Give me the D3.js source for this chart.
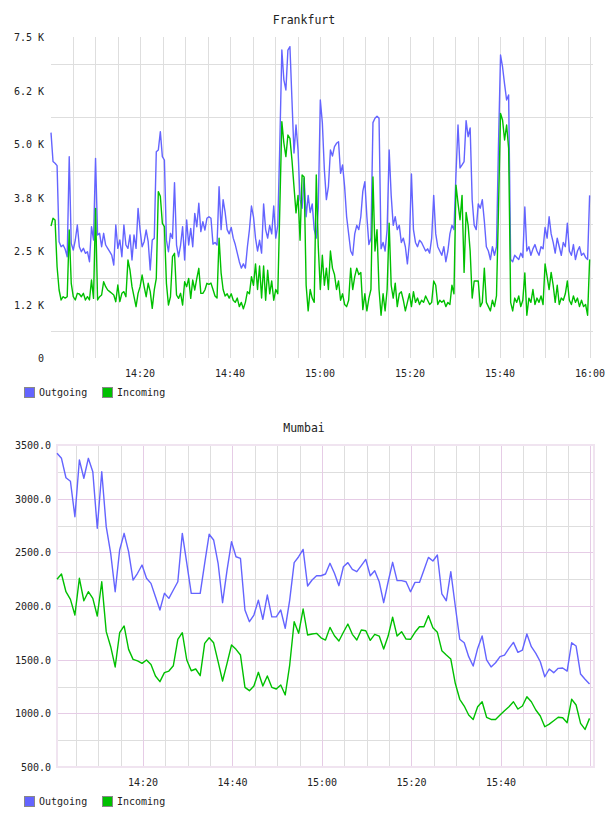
<!DOCTYPE html>
<html>
<head>
<meta charset="utf-8">
<script src="https://cdn.jsdelivr.net/npm/d3@7"></script>
<style>
  html, body { margin: 0; padding: 0; background: #fff; }
  svg text { font-family: "DejaVu Sans Mono", monospace; fill: #222; }
</style>
</head>
<body>
<div id="chart"></div>
<script>
const seriesNames = ['Outgoing', 'Incoming'];
const seriesColors = ['#6464ff', '#00c000'];

// Frankfurt, one sample every 27 s from 14:00:13
const frankfurtOutgoing = [
  5265, 4590, 4550, 4494, 2717, 2600, 2640, 2540, 2367, 4704,
  2679, 2523, 2757, 3107, 2600, 2483, 2562, 2445, 2483, 2250,
  3068, 2757, 4665, 2874, 2913, 2600, 2913, 2640, 2562, 2483,
  2406, 2173, 3107, 2562, 2757, 2367, 3107, 2640, 2562, 2874,
  2290, 2874, 2562, 3497, 2990, 2600, 2717, 2990, 2717, 2056,
  2757, 2795, 4820, 4860, 5288, 4704, 4626, 2757, 2483, 2913,
  2795, 4097, 2640, 2367, 2640, 3068, 2290, 3224, 2640, 3029,
  2600, 3380, 3068, 3614, 2952, 3185, 2990, 3264, 3302, 3264,
  2660, 2700, 2640, 4000, 3000, 3700, 3400, 3000, 2900, 3050,
  2800, 2650, 2450, 2250, 2100, 2200, 2100, 2600, 3000, 3550,
  3300, 2800, 2500, 2750, 2450, 3600, 3000, 2800, 3100, 2900,
  3550, 2800, 3100, 5000, 7196, 6500, 6262, 7196, 7273, 6028,
  4790, 5444, 4860, 3700, 3500, 4200, 3300, 3800, 3400, 3600,
  3000, 2800, 3500, 6028, 5500, 4400, 3700, 4003, 4860, 4720,
  4937, 5016, 5054, 4315, 4509, 4003, 3300, 2900, 2500, 2400,
  2900, 3100, 3000, 3300, 3900, 4120, 3300, 2650, 2800, 5500,
  5600, 5650, 5600, 2550, 2700, 2500, 3000, 4860, 3800, 3100,
  3300, 3000, 3100, 2700, 2800, 2600, 2200, 2700, 4300, 3000,
  2700, 2600, 2750, 2700, 2600, 2500, 2550, 2450, 2800, 3800,
  2900, 2600, 2500, 2400, 2600, 2250, 2500, 2900, 3100, 3000,
  4300, 5444, 4440, 4510, 4590, 5546, 5171, 5374, 3690, 3100,
  3000, 3600, 3500, 3700, 3200, 2600, 2500, 2300, 2600, 2400,
  2600, 5000, 7079, 6800, 6400, 6028, 6145, 2300, 2250, 2400,
  2350, 2300, 2450, 2350, 3530, 2500, 2600, 2400, 2550, 2650,
  2500, 2400, 2600, 2550, 3050, 2800, 3300, 2900, 2700, 2450,
  2800, 2600, 2400, 2700, 2600, 3150, 2500, 2400, 2650, 2300,
  2500, 2600, 2400, 2450, 2350, 2300, 3800
];
const frankfurtIncoming = [
  3084, 3264, 3224, 2133, 1589, 1355, 1432, 1400, 1432, 2990,
  1745, 1432, 1355, 1511, 1495, 1432, 1511, 1355, 1432, 1355,
  1822, 1393, 3497, 1355, 1432, 1472, 1783, 1667, 1589, 1550,
  1511, 1472, 1316, 1706, 1316, 1511, 1550, 1432, 2290, 2056,
  1667, 1432, 1199, 1511, 1667, 1939, 1667, 1432, 1745, 1550,
  1160, 1589, 1861, 3887, 3780, 3146, 3068, 1745, 1238, 1432,
  2367, 2445, 1472, 1393, 1511, 1238, 1783, 1667, 1861, 1393,
  1822, 1589, 1861, 2095, 1511, 1511, 1589, 1745, 1722, 1750,
  1600, 1450, 1400, 2800, 1990, 1600, 1450, 1500, 1400, 1500,
  1350, 1300, 1400, 1200, 1300, 1150, 1300, 1550, 1500, 1900,
  1700, 2200, 1600, 2150, 1400, 2150, 1350, 2050, 1500, 1800,
  1350, 1600, 1500, 3500, 5522, 5023, 4704, 5210, 5132, 4626,
  4003, 3390, 3800, 2750, 4275, 4230, 1700, 1100, 1600, 1400,
  1300, 4275, 2600, 1600, 2400, 1700, 2100, 1600, 2500, 2100,
  1950, 1600, 1800, 1350, 1500, 1250, 1200, 1350, 2100, 1600,
  1900, 2100, 1950, 2000, 1130, 1500, 1100, 1400, 1600, 4230,
  2500, 3000, 1600, 1000, 1500, 1100, 1600, 3150, 1700, 1400,
  1750, 1200, 1500, 1550, 1350, 1100, 1300, 1500, 1200, 1550,
  1300, 1400, 1250, 1350, 1300, 1450, 1350, 1250, 1300, 1800,
  1700, 1250, 1350, 1300, 1350, 1200, 1300, 1250, 1700, 1500,
  4040, 3620, 3230, 3800, 2000, 3400, 3100, 2500, 1400, 1800,
  1800, 1800, 1200, 1300, 2100, 1300, 1200, 1100, 1350, 1200,
  1450, 3500, 5716, 5560, 5093, 5444, 4900, 1300, 1100, 1400,
  1300, 1450, 1200, 1350, 1990, 1000, 1400, 1300, 1600, 1250,
  1400, 1300, 1450, 1250, 2200, 1900, 1600, 2000, 1700, 1300,
  1700, 1250, 1400, 1350, 1500, 1800, 1350, 1250, 1450, 1300,
  1400, 1200, 1350, 1200, 1250, 1000, 2300
];
const frankfurtTicks = [0, 1250, 2500, 3750, 5000, 6250, 7500];
const frankfurtTickLabels = ['0', '1.2 K', '2.5 K', '3.8 K', '5.0 K', '6.2 K', '7.5 K'];
const frankfurtTimeLabels = ['14:20', '14:40', '15:00', '15:20', '15:40', '16:00'];

// Mumbai, one sample per minute from 14:00:47
const mumbaiOutgoing = [
  3423, 3376, 3195, 3162, 2832, 3360, 3190, 3376, 3251, 2724,
  3251, 2739, 2491, 2133, 2522, 2677, 2506, 2242, 2305, 2382,
  2258, 2211, 2087, 1963, 2118, 2071, 2149, 2226, 2677, 2400,
  2118, 2118, 2118, 2398, 2668, 2615, 2398, 2031, 2335, 2599,
  2459, 2443, 1963, 1854, 1916, 2055, 1876, 2102, 1899, 1899,
  1963, 1792, 2055, 2404, 2459, 2527, 2186, 2242, 2282, 2282,
  2298, 2398, 2305, 2189, 2366, 2404, 2342, 2320, 2376, 2434,
  2282, 2329, 2226, 2031, 2226, 2407, 2236, 2236, 2226, 2133,
  2220, 2220, 2335, 2453, 2419, 2475, 2112, 2049, 2320, 2000,
  1690, 1657, 1528, 1441, 1605, 1721, 1497, 1432, 1471, 1528,
  1543, 1605, 1661, 1568, 1590, 1739, 1621, 1559, 1481, 1341,
  1413, 1379, 1419, 1422, 1394, 1657, 1627, 1366, 1317, 1273
];
const mumbaiIncoming = [
  2249, 2298, 2133, 2062, 1916, 2258, 2049, 2133, 2071, 1907,
  2226, 1761, 1621, 1432, 1751, 1814, 1596, 1503, 1488, 1466,
  1497, 1456, 1348, 1295, 1379, 1394, 1444, 1690, 1751, 1497,
  1397, 1413, 1351, 1652, 1704, 1657, 1481, 1301, 1466, 1637,
  1596, 1543, 1242, 1211, 1255, 1382, 1255, 1348, 1242, 1227,
  1264, 1171, 1450, 1854, 1745, 1972, 1730, 1739, 1745, 1704,
  1683, 1801, 1723, 1674, 1755, 1832, 1736, 1683, 1776, 1770,
  1680, 1736, 1720, 1599, 1720, 1895, 1720, 1761, 1692, 1690,
  1755, 1807, 1807, 1910, 1798, 1755, 1584, 1543, 1506, 1280,
  1131, 1068, 984, 943, 1062, 1108, 963, 943, 943, 984,
  1025, 1062, 1108, 1040, 1068, 1155, 1108, 1031, 975, 875,
  900, 931, 963, 959, 913, 1131, 1078, 907, 850, 953
];
const mumbaiTicks = [500, 1000, 1500, 2000, 2500, 3000, 3500];
const mumbaiTickLabels = ['500.0', '1000.0', '1500.0', '2000.0', '2500.0', '3000.0', '3500.0'];
const mumbaiTimeLabels = ['14:20', '14:40', '15:00', '15:20', '15:40'];

const at = (h, m, s) => new Date(2000, 0, 1, h, m, s);
const parseHM = d3.timeParse('%H:%M');
const toDay = (t) => at(t.getHours(), t.getMinutes(), 0);

const svg = d3.select('#chart').append('svg')
  .attr('width', 608)
  .attr('height', 816);

function drawChart(cfg) {
  const x = d3.scaleTime().domain(cfg.domainX).range([cfg.left, cfg.right]);
  const y = d3.scaleLinear().domain(cfg.domainY).range([cfg.bottom, cfg.top]);
  const g = svg.append('g');

  // 5 minute grid
  const minorTimes = d3.timeMinute.every(5).range(cfg.domainX[0], cfg.domainX[1]);
  g.append('g').selectAll('line')
    .data(minorTimes.filter((t) => !cfg.majorColor || t.getMinutes() % 20 !== 0))
    .join('line')
    .attr('x1', (d) => Math.round(x(d)) + 0.5)
    .attr('x2', (d) => Math.round(x(d)) + 0.5)
    .attr('y1', cfg.top)
    .attr('y2', cfg.bottom)
    .attr('stroke', cfg.gridColor);

  g.append('g').selectAll('line')
    .data(cfg.hGrid)
    .join('line')
    .attr('x1', cfg.left)
    .attr('x2', cfg.right)
    .attr('y1', (d) => Math.round(y(d)) + 0.5)
    .attr('y2', (d) => Math.round(y(d)) + 0.5)
    .attr('stroke', cfg.gridColor);

  if (cfg.majorColor) {
    g.append('g').selectAll('line')
      .data(minorTimes.filter((t) => t.getMinutes() % 20 === 0))
      .join('line')
      .attr('x1', (d) => Math.round(x(d)) + 0.5)
      .attr('x2', (d) => Math.round(x(d)) + 0.5)
      .attr('y1', cfg.top)
      .attr('y2', cfg.bottom)
      .attr('stroke', cfg.majorColor);
    g.append('g').selectAll('line')
      .data(cfg.ticks)
      .join('line')
      .attr('x1', cfg.left)
      .attr('x2', cfg.right)
      .attr('y1', (d) => Math.round(y(d)) + 0.5)
      .attr('y2', (d) => Math.round(y(d)) + 0.5)
      .attr('stroke', cfg.majorColor);
    g.append('rect')
      .attr('x', cfg.left)
      .attr('y', cfg.top)
      .attr('width', cfg.right - cfg.left)
      .attr('height', cfg.bottom - cfg.top)
      .attr('fill', 'none')
      .attr('stroke', cfg.frameColor)
      .attr('stroke-width', 2);
  }

  // y labels
  g.append('g').selectAll('text')
    .data(cfg.ticks)
    .join('text')
    .attr('x', cfg.labelRight)
    .attr('y', (d) => y(d) + 4)
    .attr('text-anchor', 'end')
    .attr('font-size', '10px')
    .text((d, i) => cfg.tickLabels[i]);

  // x labels
  g.append('g').selectAll('text')
    .data(cfg.timeLabels)
    .join('text')
    .attr('x', (d) => x(toDay(parseHM(d))))
    .attr('y', cfg.bottom + 19)
    .attr('text-anchor', 'middle')
    .attr('font-size', '10px')
    .text((d) => d);

  g.append('text')
    .attr('x', 304)
    .attr('y', cfg.top - 13)
    .attr('text-anchor', 'middle')
    .attr('font-size', '11.5px')
    .text(cfg.title);

  const line = d3.line()
    .x((d) => x(d.t))
    .y((d) => y(d.v));

  cfg.series.forEach((values, k) => {
    const pts = values.map((v, i) => ({ t: new Date(+cfg.start + i * cfg.step), v }));
    g.append('path')
      .datum(pts)
      .attr('fill', 'none')
      .attr('stroke', seriesColors[k])
      .attr('stroke-width', 1.4)
      .attr('stroke-linejoin', 'round')
      .attr('d', line);
  });

  // legend
  const legend = g.append('g')
    .attr('transform', `translate(24, ${cfg.bottom + 29})`);
  const items = legend.selectAll('g')
    .data(seriesNames)
    .join('g')
    .attr('transform', (d, i) => `translate(${i * 78}, 0)`);
  items.append('rect')
    .attr('x', 0.5)
    .attr('y', 0.5)
    .attr('width', 10)
    .attr('height', 10)
    .attr('fill', (d, i) => seriesColors[i])
    .attr('stroke', '#888');
  items.append('text')
    .attr('x', 15)
    .attr('y', 9)
    .attr('font-size', '10px')
    .text((d) => d);
}

drawChart({
  title: 'Frankfurt',
  left: 51, right: 593, top: 37, bottom: 358, labelRight: 44,
  domainX: [at(14, 0, 13), at(16, 0, 40)],
  domainY: [0, 7500],
  ticks: frankfurtTicks,
  tickLabels: frankfurtTickLabels,
  hGrid: d3.pairs(frankfurtTicks).map(([a, b]) => (a + b) / 2),
  timeLabels: frankfurtTimeLabels,
  gridColor: '#dedede',
  start: at(14, 0, 13), step: 27000,
  series: [frankfurtOutgoing, frankfurtIncoming]
});

drawChart({
  title: 'Mumbai',
  left: 57, right: 594, top: 445, bottom: 767, labelRight: 51,
  domainX: [at(14, 0, 47), at(16, 0, 47)],
  domainY: [500, 3500],
  ticks: mumbaiTicks,
  tickLabels: mumbaiTickLabels,
  hGrid: d3.pairs(mumbaiTicks).map(([a, b]) => (a + b) / 2),
  timeLabels: mumbaiTimeLabels,
  gridColor: '#dedede',
  majorColor: '#e6cce6',
  frameColor: '#f0e4f0',
  start: at(14, 0, 47), step: 60000,
  series: [mumbaiOutgoing, mumbaiIncoming]
});
</script>
</body>
</html>
